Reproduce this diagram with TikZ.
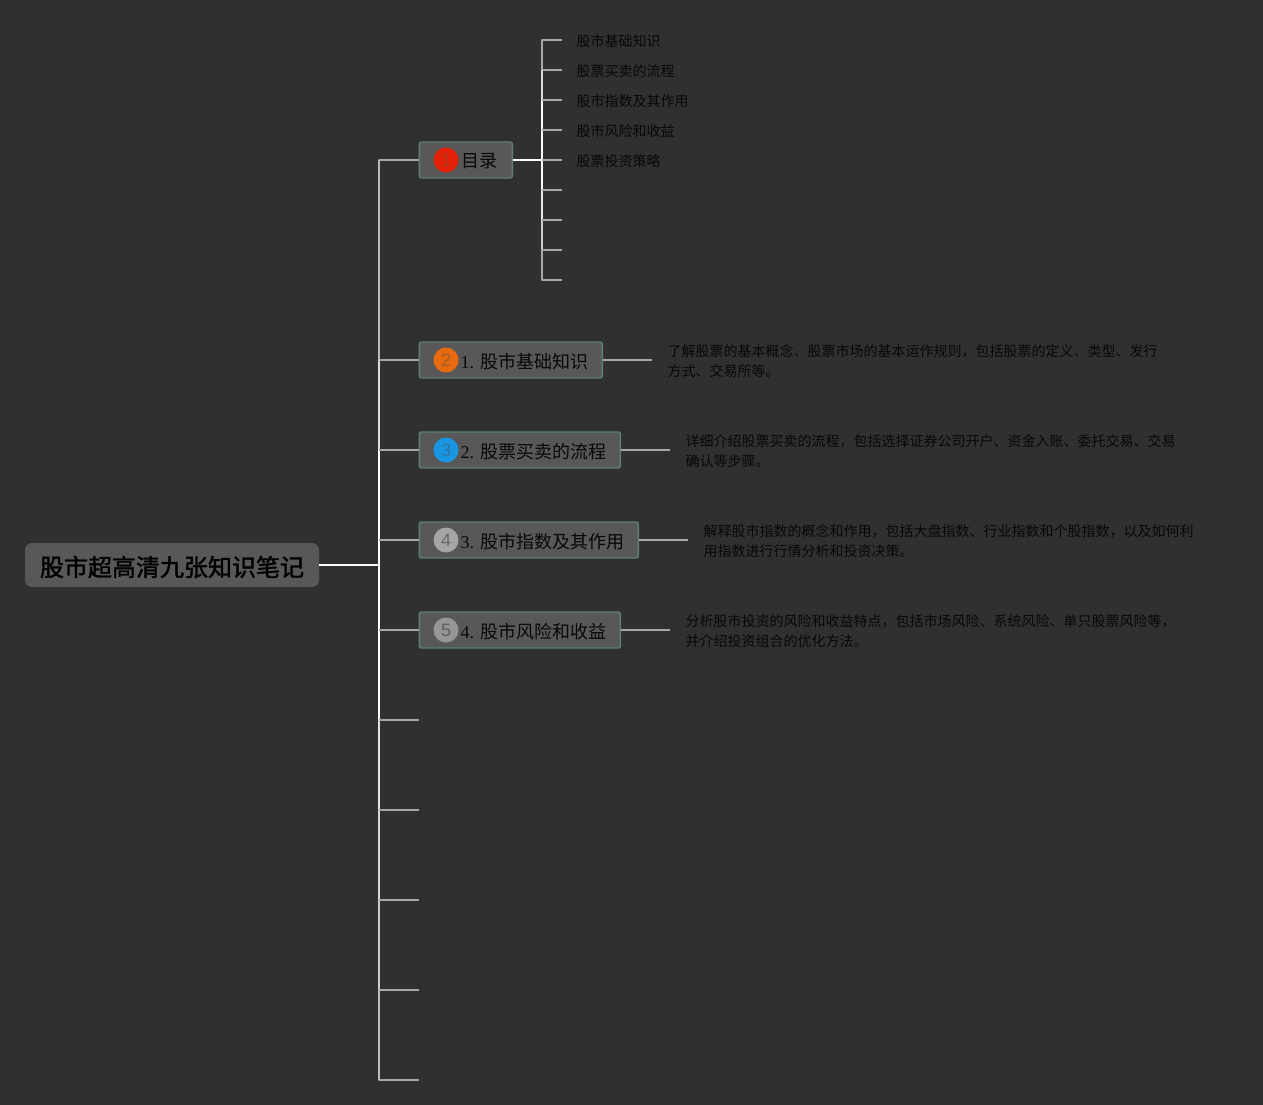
\documentclass[tikz,border=0pt]{standalone}
\usepackage{fontspec}
\setmainfont{Liberation Serif}
\setsansfont{Liberation Sans}
\newfontfamily\cjk{Noto Sans CJK SC}
\newfontfamily\cjkheavy[FakeBold=1.6]{Noto Sans CJK SC}
\definecolor{bgc}{HTML}{303030}
\definecolor{boxc}{HTML}{585858}
\definecolor{edgec}{HTML}{5C8074}
\definecolor{inkc}{HTML}{080808}
\definecolor{stubc}{HTML}{A8A8A8}
\tikzset{
  x=1pt,y=-1pt,
  rootbox/.style={draw=none,fill=boxc,rounded corners=7pt,minimum width=294pt,minimum height=44pt,inner sep=0pt,anchor=center},
  roottext/.style={inner sep=0pt,anchor=center,text=black,font=\fontsize{24}{28}\selectfont\cjkheavy},
  topicbox/.style={draw=edgec,line width=1.4pt,fill=boxc,rounded corners=2pt,minimum height=36pt,inner sep=0pt,anchor=west},
  topictext/.style={inner sep=0pt,anchor=west,text=inkc,font=\fontsize{18}{22}\selectfont},
  badge/.style={circle,minimum size=25pt,inner sep=0pt,font=\fontsize{18}{20}\selectfont\sffamily},
  leaftext/.style={inner sep=0pt,anchor=west,text=inkc,font=\fontsize{14}{20}\selectfont\cjk},
  desctext/.style={inner sep=0pt,anchor=west,align=left,text=inkc,font=\fontsize{14}{20}\selectfont\cjk},
  stub/.style={draw=stubc,line width=1.5pt},
  white line/.style={draw=white,line width=1.7pt},
  trunk/.style={line width=1.6pt,line cap=round},
}
\begin{document}
\begin{tikzpicture}
\useasboundingbox (0,0) rectangle (1263,1105);
\fill[bgc] (0,0) rectangle (1263,1105);

% trunk junctions
\foreach \n/\y in {a/160,b/360,c/450,d/540,e/630,f/720,g/810,h/900,i/990,j/1080,m/565}
  \coordinate (T\n) at (379,\y);
\foreach \n/\y in {a/40,b/70,c/100,d/130,e/160,f/190,g/220,h/250,i/280}
  {\coordinate (U\n) at (542,\y); \coordinate (L\n) at (562,\y);}
\foreach \n/\y in {f/720,g/810,h/900,i/990,j/1080}
  \coordinate (E\n) at (419,\y);

% main trunk
\draw[trunk,draw=stubc!80!white] (Ta) -- (Tb);
\draw[trunk,draw=stubc!40!white] (Tb) -- (Tc);
\draw[trunk,draw=white] (Tc) -- (Tf);
\draw[trunk,draw=white!90!black] (Tf) -- (Tg);
\draw[trunk,draw=white!85!black] (Tg) -- (Th);
\draw[trunk,draw=white!80!black] (Th) -- (Ti);
\draw[trunk,draw=white!75!black] (Ti) -- (Tj);
% right trunk
\draw[trunk,draw=stubc] (Ua) -- (Ub);
\draw[trunk,draw=white!85!black] (Ub) -- (Uc);
\draw[trunk,draw=white] (Uc) -- (Uf);
\draw[trunk,draw=white!90!black] (Uf) -- (Ug);
\draw[trunk,draw=white!80!black] (Ug) -- (Uh);
\draw[trunk,draw=stubc] (Uh) -- (Ui);

% nodes
\node[rootbox] (root) at (172,565) {};
\node[roottext] (roott) at (172,567) {股市超高清九张知识笔记};

\node[topicbox,minimum width=93pt] (t0) at (418.6,160) {};
\node[topicbox,minimum width=183pt] (t1) at (418.6,360) {};
\node[topicbox,minimum width=201pt] (t2) at (418.6,450) {};
\node[topicbox,minimum width=219pt] (t3) at (418.6,540) {};
\node[topicbox,minimum width=201pt] (t4) at (418.6,630) {};

\node[badge,fill={rgb,255:red,226;green,32;blue,8},text={rgb,255:red,175;green,52;blue,32}] (b1) at (446,160) {1};
\node[badge,fill={rgb,255:red,232;green,106;blue,16},text={rgb,255:red,165;green,95;blue,40}] (b2) at (446,360) {2};
\node[badge,fill={rgb,255:red,24;green,150;blue,226},text={rgb,255:red,50;green,115;blue,165}] (b3) at (446,450) {3};
\node[badge,fill={rgb,255:red,165;green,165;blue,165},text={rgb,255:red,105;green,105;blue,105}] (b4) at (446,540) {4};
\node[badge,fill={rgb,255:red,150;green,150;blue,150},text={rgb,255:red,95;green,95;blue,95}] (b5) at (446,630) {5};

\node[topictext] (x0) at (461,161.5) {\cjk 目录};
\node[topictext] (x1) at (460.5,361.5) {1. {\cjk 股市基础知识}};
\node[topictext] (x2) at (460.5,451.5) {2. {\cjk 股票买卖的流程}};
\node[topictext] (x3) at (460.5,541.5) {3. {\cjk 股市指数及其作用}};
\node[topictext] (x4) at (460.5,631.5) {4. {\cjk 股市风险和收益}};

\node[leaftext] (l1) at (576.5,41.5) {股市基础知识};
\node[leaftext] (l2) at (576.5,71.5) {股票买卖的流程};
\node[leaftext] (l3) at (576.5,101.5) {股市指数及其作用};
\node[leaftext] (l4) at (576.5,131.5) {股市风险和收益};
\node[leaftext] (l5) at (576.5,161.5) {股票投资策略};

\node[desctext] (d1) at (667.5,361.5) {了解股票的基本概念、股票市场的基本运作规则，包括股票的定义、类型、发行\\方式、交易所等。};
\node[desctext] (d2) at (685.5,451.5) {详细介绍股票买卖的流程，包括选择证券公司开户、资金入账、委托交易、交易\\确认等步骤。};
\node[desctext] (d3) at (703.5,541.5) {解释股市指数的概念和作用，包括大盘指数、行业指数和个股指数，以及如何利\\用指数进行行情分析和投资决策。};
\node[desctext] (d4) at (685.5,631.5) {分析股市投资的风险和收益特点，包括市场风险、系统风险、单只股票风险等，\\并介绍投资组合的优化方法。};

\coordinate (e1) at (652,360);
\coordinate (e2) at (670,450);
\coordinate (e3) at (688,540);
\coordinate (e4) at (670,630);

% connectors
\draw[white line] (root.east |- Tm) -- (Tm);
\draw[stub] (Ta) -- (t0.west);
\draw[stub] (Tb) -- (t1.west);
\draw[stub] (Tc) -- (t2.west);
\draw[stub] (Td) -- (t3.west);
\draw[stub] (Te) -- (t4.west);
\draw[stub] (Tf) -- (Ef);
\draw[stub] (Tg) -- (Eg);
\draw[stub] (Th) -- (Eh);
\draw[stub] (Ti) -- (Ei);
\draw[stub] (Tj) -- (Ej);
\draw[white line] (t0.east) -- (Ue);
\foreach \n in {a,b,c,d,e,f,g,h,i} \draw[stub] (U\n) -- (L\n);
\draw[stub] (t1.east) -- (e1);
\draw[stub] (t2.east) -- (e2);
\draw[stub] (t3.east) -- (e3);
\draw[stub] (t4.east) -- (e4);
\end{tikzpicture}
\end{document}
